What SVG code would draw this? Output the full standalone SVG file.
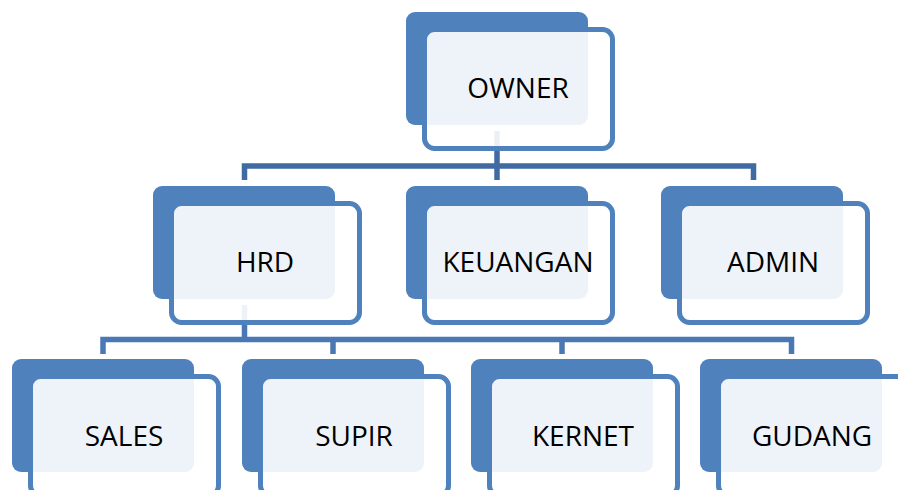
<svg xmlns="http://www.w3.org/2000/svg" width="898" height="490" viewBox="0 0 898 490">
<style>
.back{fill:#4F81BD}
.front{fill:#FFFFFF;fill-opacity:0.9;stroke:#4F81BD;stroke-width:5}
.lbl{font-family:"Open Sans","Liberation Sans",sans-serif;font-size:28px;fill:#000;text-anchor:middle}
.c1{fill:none;stroke:#3F6BA2;stroke-width:5.5}
.c2{fill:none;stroke:#4A78B4;stroke-width:5.5}
</style>
<rect width="898" height="490" fill="#FFFFFF"/>
<g id="connectors">
<path class="c1" d="M497 131V180M244.5 180V166H753.5V180"/>
<path class="c2" d="M244.5 305V339.5M103 354V339.5H791.5V354M333 339.5V354M562 339.5V354"/>
</g>
<g id="owner">
<rect class="back" x="406" y="12" width="182" height="113" rx="9"/>
<rect class="front" x="424.5" y="29.5" width="188" height="119" rx="10"/>
<text class="lbl" x="518" y="98">OWNER</text>
</g>
<g id="hrd">
<rect class="back" x="153" y="186" width="182" height="113" rx="9"/>
<rect class="front" x="171.5" y="203.5" width="188" height="119" rx="10"/>
<text class="lbl" x="265" y="272">HRD</text>
</g>
<g id="keuangan">
<rect class="back" x="406" y="186" width="182" height="113" rx="9"/>
<rect class="front" x="424.5" y="203.5" width="188" height="119" rx="10"/>
<text class="lbl" x="518" y="272">KEUANGAN</text>
</g>
<g id="admin">
<rect class="back" x="661" y="186" width="182" height="113" rx="9"/>
<rect class="front" x="679.5" y="203.5" width="188" height="119" rx="10"/>
<text class="lbl" x="773" y="272">ADMIN</text>
</g>
<g id="sales">
<rect class="back" x="12" y="359" width="182" height="113" rx="9"/>
<rect class="front" x="30.5" y="376.5" width="188" height="119" rx="10"/>
<text class="lbl" x="124" y="446">SALES</text>
</g>
<g id="supir">
<rect class="back" x="242" y="359" width="182" height="113" rx="9"/>
<rect class="front" x="260.5" y="376.5" width="188" height="119" rx="10"/>
<text class="lbl" x="354" y="446">SUPIR</text>
</g>
<g id="kernet">
<rect class="back" x="471" y="359" width="182" height="113" rx="9"/>
<rect class="front" x="489.5" y="376.5" width="188" height="119" rx="10"/>
<text class="lbl" x="583" y="446">KERNET</text>
</g>
<g id="gudang">
<rect class="back" x="700" y="359" width="182" height="113" rx="9"/>
<rect class="front" x="718.5" y="376.5" width="188" height="119" rx="10"/>
<text class="lbl" x="812" y="446">GUDANG</text>
</g>
</svg>
